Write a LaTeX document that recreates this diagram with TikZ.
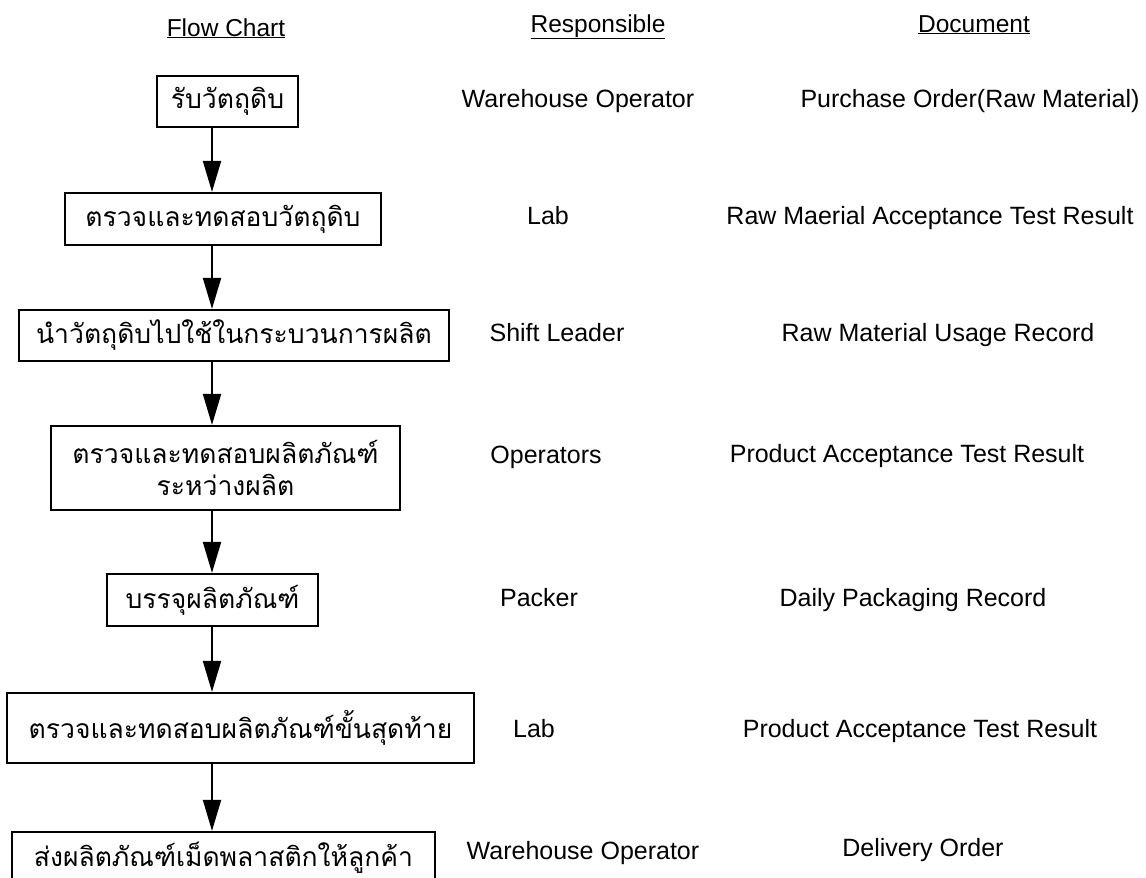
\documentclass[tikz,border=0pt]{standalone}
\usepackage{fontspec}
\setmainfont{Liberation Sans}
\newfontfamily\thaifont[Script=Thai]{Loma}
\usetikzlibrary{arrows.meta}
\begin{document}
\begin{tikzpicture}[x=1pt,y=-1pt,
 stepbox/.style={draw, line width=2.2pt, inner sep=0pt, align=center,
   font=\thaifont\fontsize{26.5}{32}\selectfont},
 lbl/.style={font=\fontsize{25}{30}\selectfont, inner sep=0pt, anchor=base},
 hdr/.style={font=\fontsize{24.5}{30}\selectfont, inner sep=0pt, anchor=base},
 arr/.style={line width=2pt, -{Triangle[length=31pt,width=18pt]}}]
\useasboundingbox[fill=white] (0,0) rectangle (1146,878);

% headers
\node[hdr] (hflow) at (226,36) {\underline{Flow Chart}};
\node[hdr] (hresp) at (598,32) {\underline{Responsible}};
\node[hdr] (hdoc)  at (974,32) {\underline{Document}};

% flow boxes
\node[stepbox, minimum width=141pt, minimum height=51pt] (b1) at (227.5,101.5) {รับวัตถุดิบ};
\node[stepbox, minimum width=316pt, minimum height=52pt] (b2) at (223,219) {ตรวจและทดสอบวัตถุดิบ};
\node[stepbox, minimum width=430pt, minimum height=51pt] (b3) at (234,335.5) {นำวัตถุดิบไปใช้ในกระบวนการผลิต};
\node[stepbox, minimum width=349pt, minimum height=84pt] (b4) at (225.5,468) {ตรวจและทดสอบผลิตภัณฑ์\\ระหว่างผลิต};
\node[stepbox, minimum width=211pt, minimum height=52pt] (b5) at (212.5,600) {บรรจุผลิตภัณฑ์};
\node[stepbox, minimum width=467pt, minimum height=70pt] (b6) at (240.5,728) {ตรวจและทดสอบผลิตภัณฑ์ขั้นสุดท้าย};
\node[stepbox, minimum width=423pt, minimum height=56pt] (b7) at (223.5,860) {\raisebox{11pt}{ส่งผลิตภัณฑ์เม็ดพลาสติกให้ลูกค้า}};

% arrows
\coordinate (ax) at (212,0);
\draw[arr] (b1.south -| ax) -- (b2.north -| ax);
\draw[arr] (b2.south -| ax) -- (b3.north -| ax);
\draw[arr] (b3.south -| ax) -- (b4.north -| ax);
\draw[arr] (b4.south -| ax) -- (b5.north -| ax);
\draw[arr] (b5.south -| ax) -- (b6.north -| ax);
\draw[arr] (b6.south -| ax) -- (b7.north -| ax);

% responsible
\node[lbl] (r1) at (578,107) {Warehouse Operator};
\node[lbl] (r2) at (548,224) {Lab};
\node[lbl] (r3) at (557,341) {Shift Leader};
\node[lbl] (r4) at (546,463) {Operators};
\node[lbl] (r5) at (539,606) {Packer};
\node[lbl] (r6) at (534,737) {Lab};
\node[lbl] (r7) at (583,859) {Warehouse Operator};

% documents
\node[lbl] (d1) at (970,107) {Purchase Order(Raw Material)};
\node[lbl] (d2) at (930,224) {Raw Maerial Acceptance Test Result};
\node[lbl] (d3) at (938,341) {Raw Material Usage Record};
\node[lbl] (d4) at (907,462) {Product Acceptance Test Result};
\node[lbl] (d5) at (913,606) {Daily Packaging Record};
\node[lbl] (d6) at (920,737) {Product Acceptance Test Result};
\node[lbl] (d7) at (923,856) {Delivery Order};
\end{tikzpicture}
\end{document}
